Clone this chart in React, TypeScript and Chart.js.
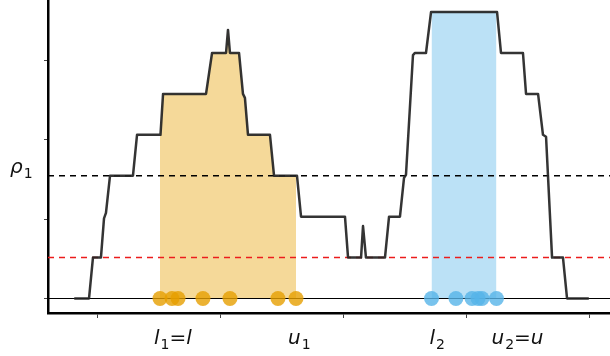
import React, { useEffect, useRef } from 'react';
import { Chart, registerables } from 'chart.js';

Chart.register(...registerables);

// ---- data ----
const CURVE_X = [
  0.813, 0.927, 0.959, 1.024, 1.049, 1.065, 1.098, 1.285, 1.318, 1.509, 1.530,
  1.880, 1.929, 2.043, 2.059, 2.075, 2.149, 2.181, 2.197, 2.222, 2.401, 2.434,
  2.621, 2.654, 3.012, 3.037, 3.143, 3.159, 3.183, 3.338, 3.371, 3.460, 3.493,
  3.509, 3.566, 3.582, 3.672, 3.713, 4.251, 4.283, 4.462, 4.487, 4.585, 4.625,
  4.650, 4.699, 4.788, 4.821, 4.992,
];
const CURVE_Y = [
  0, 0, 0.516, 0.516, 1.01, 1.08, 1.548, 1.548, 2.064, 2.064, 2.58,
  2.58, 3.096, 3.096, 3.386, 3.096, 3.096, 2.58, 2.53, 2.064, 2.064, 1.548,
  1.548, 1.032, 1.032, 0.516, 0.516, 0.914, 0.516, 0.516, 1.032, 1.032, 1.52,
  1.56, 3.07, 3.096, 3.096, 3.612, 3.612, 3.096, 3.096, 2.58, 2.58, 2.064,
  2.04, 0.516, 0.516, 0, 0,
];
const ORANGE_SAMPLES = [1.505, 1.603, 1.652, 1.855, 2.075, 2.466, 2.613];
const BLUE_SAMPLES = [3.717, 3.916, 4.047, 4.096, 4.128, 4.246];
const RHO1 = 1.548;
const RED_LEVEL = 0.516;
const XTICKS = [1, 2, 3, 4, 5];
const YTICKS = [0, 1, 2, 3];
const X_MIN = 0.5927;
const X_MAX = 5.171;
const Y_MIN = -0.183;
const Y_MAX = 3.764;

const L1 = Math.min(...ORANGE_SAMPLES);
const U1 = Math.max(...ORANGE_SAMPLES);
const L2 = Math.min(...BLUE_SAMPLES);
const U2 = Math.max(...BLUE_SAMPLES);

function curveAt(x: number): number {
  for (let i = 0; i < CURVE_X.length - 1; i++) {
    const a = CURVE_X[i], b = CURVE_X[i + 1];
    if (x >= a && x <= b) {
      const t = b === a ? 0 : (x - a) / (b - a);
      return CURVE_Y[i] + t * (CURVE_Y[i + 1] - CURVE_Y[i]);
    }
  }
  return 0;
}

function clipCurve(lo: number, hi: number) {
  const pts: { x: number; y: number }[] = [{ x: lo, y: curveAt(lo) }];
  for (let i = 0; i < CURVE_X.length; i++) {
    if (CURVE_X[i] > lo && CURVE_X[i] < hi) pts.push({ x: CURVE_X[i], y: CURVE_Y[i] });
  }
  pts.push({ x: hi, y: curveAt(hi) });
  return pts;
}

type Part = [string, 'i' | 's' | 'n'];

function drawMath(ctx: CanvasRenderingContext2D, x: number, baseline: number, parts: Part[]) {
  let cx = x;
  ctx.fillStyle = '#111';
  ctx.textBaseline = 'alphabetic';
  ctx.textAlign = 'left';
  for (const [t, kind] of parts) {
    let dy = 0;
    if (kind === 'i') ctx.font = 'italic 20px "DejaVu Sans"';
    else if (kind === 's') { ctx.font = '14px "DejaVu Sans"'; dy = 5; }
    else ctx.font = '20px "DejaVu Sans"';
    ctx.fillText(t, cx, baseline + dy);
    cx += ctx.measureText(t).width + (kind === 'i' ? 1 : 0);
  }
}

const labelPlugin = {
  id: 'mathLabels',
  afterDraw(chart: any) {
    const ctx: CanvasRenderingContext2D = chart.ctx;
    const xs = chart.scales.x;
    const ys = chart.scales.y;
    ctx.save();
    const base = 344;
    drawMath(ctx, xs.getPixelForValue(L1) - 6, base, [['l', 'i'], ['1', 's'], ['=', 'n'], ['l', 'i']]);
    drawMath(ctx, xs.getPixelForValue(U1) - 8, base, [['u', 'i'], ['1', 's']]);
    drawMath(ctx, xs.getPixelForValue(L2) - 2, base, [['l', 'i'], ['2', 's']]);
    drawMath(ctx, xs.getPixelForValue(U2) - 5, base, [['u', 'i'], ['2', 's'], ['=', 'n'], ['u', 'i']]);
    drawMath(ctx, 10, ys.getPixelForValue(RHO1) - 3, [['ρ', 'i'], ['1', 's']]);
    ctx.restore();
  },
};

export default function App() {
  const ref = useRef<HTMLCanvasElement | null>(null);
  useEffect(() => {
    if (!ref.current) return;
    const hline = (y: number) => [{ x: X_MIN, y }, { x: X_MAX, y }];
    const chart = new Chart(ref.current, {
      type: 'line',
      data: {
        datasets: [
          {
            data: clipCurve(L1, U1),
            fill: 'origin',
            backgroundColor: 'rgba(230,159,0,0.4)',
            borderWidth: 0,
            pointRadius: 0,
            order: 6,
          },
          {
            data: clipCurve(L2, U2),
            fill: 'origin',
            backgroundColor: 'rgba(86,180,233,0.4)',
            borderWidth: 0,
            pointRadius: 0,
            order: 6,
          },
          {
            data: hline(0),
            borderColor: '#000',
            borderWidth: 1.2,
            pointRadius: 0,
            order: 5,
          },
          {
            data: hline(RED_LEVEL),
            borderColor: 'rgb(236,28,28)',
            borderWidth: 1.4,
            borderDash: [6, 5],
            pointRadius: 0,
            order: 4,
          },
          {
            data: hline(RHO1),
            borderColor: '#000',
            borderWidth: 1.3,
            borderDash: [6, 5],
            pointRadius: 0,
            order: 4,
          },
          {
            data: ORANGE_SAMPLES.map((x) => ({ x, y: 0 })),
            showLine: false,
            pointRadius: 7.5,
            pointBorderWidth: 0,
            pointBackgroundColor: 'rgba(230,159,0,0.8)',
            order: 3,
          },
          {
            data: BLUE_SAMPLES.map((x) => ({ x, y: 0 })),
            showLine: false,
            pointRadius: 7.5,
            pointBorderWidth: 0,
            pointBackgroundColor: 'rgba(86,180,233,0.8)',
            order: 3,
          },
          {
            data: CURVE_X.map((x, i) => ({ x, y: CURVE_Y[i] })),
            borderColor: 'rgba(35,35,35,0.92)',
            borderWidth: 2.5,
            borderJoinStyle: 'round',
            borderCapStyle: 'round',
            pointRadius: 0,
            tension: 0,
            order: 1,
          },
        ],
      } as any,
      options: {
        animation: false,
        responsive: false,
        events: [],
        layout: { padding: 0, autoPadding: false },
        plugins: { legend: { display: false }, tooltip: { enabled: false } },
        scales: {
          x: {
            type: 'linear',
            min: X_MIN,
            max: X_MAX,
            afterBuildTicks: (s: any) => { s.ticks = XTICKS.map((v) => ({ value: v })); },
            afterFit: (s: any) => { s.height = 43; },
            ticks: { display: false },
            grid: { drawOnChartArea: false, drawTicks: true, tickLength: 5, color: '#444', lineWidth: 1 },
            border: { display: true, color: '#000', width: 2.5 },
          },
          y: {
            type: 'linear',
            min: Y_MIN,
            max: Y_MAX,
            afterBuildTicks: (s: any) => { s.ticks = YTICKS.map((v) => ({ value: v })); },
            afterFit: (s: any) => { s.width = 48; },
            ticks: { display: false },
            grid: { drawOnChartArea: false, drawTicks: true, tickLength: 4, color: '#444', lineWidth: 1 },
            border: { display: true, color: '#000', width: 2.5 },
          },
        },
      } as any,
      plugins: [labelPlugin],
    });
    return () => chart.destroy();
  }, []);
  return (
    <div style={{ position: 'fixed', left: 0, top: 0, width: 610, height: 356, background: '#fff' }}>
      <canvas ref={ref} width={610} height={356} style={{ display: 'block' }} />
    </div>
  );
}
